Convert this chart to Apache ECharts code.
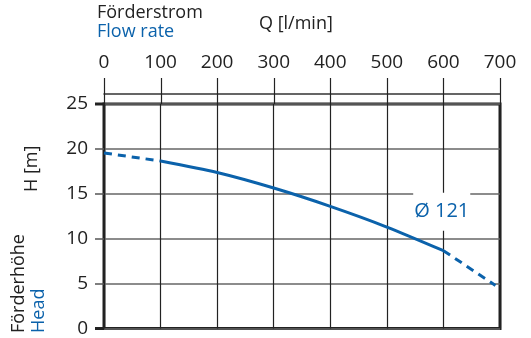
<!DOCTYPE html>
<html>
<head>
<meta charset="utf-8">
<script src="https://cdn.jsdelivr.net/npm/echarts@6/dist/echarts.min.js"></script>
<style>
html,body{margin:0;padding:0;background:#fff;}
#c{width:531px;height:338px;background:#fff;}
</style>
</head>
<body>
<div id="c"></div>
<script>
// Data
const xTicks = [0, 100, 200, 300, 400, 500, 600, 700];
const yTicks = [0, 5, 10, 15, 20, 25];
const dashedStart = [[0, 19.55], [100, 18.65]];
const solidCurve = [[100, 18.65], [200, 17.37], [300, 15.64], [400, 13.6], [500, 11.3], [600, 8.67]];
const dashedEnd = [[600, 8.67], [692, 4.8]];
const curveLabel = 'Ø 121';
const curveLabelAt = [597, 13.0];

const BLUE = '#0b62ab';
const DARK = '#222';
const FONT = '"Open Sans", "Noto Sans", sans-serif';

const chart = echarts.init(document.getElementById('c'));
const lineStyleBase = {color: BLUE, width: 3};
const X_MIN = xTicks[0], X_MAX = xTicks[xTicks.length - 1];
const Y_MIN = yTicks[0], Y_MAX = yTicks[yTicks.length - 1];

function bandXAxis(gridIndex, position, extra) {
  return Object.assign({
    type: 'value', gridIndex: gridIndex, position: position,
    min: X_MIN, max: X_MAX, interval: 100,
    axisLine: {show: false, onZero: false},
    axisTick: {show: false},
    axisLabel: {show: false},
    splitLine: {show: true, lineStyle: {color: DARK, width: 1.2}}
  }, extra || {});
}
function hiddenYAxis(gridIndex) {
  return {type: 'value', gridIndex: gridIndex, min: 0, max: 1, show: false, splitLine: {show: false}};
}

const textGraphics = [
  {id: 't1', type: 'text', left: 97, top: 4, style: {text: 'Förderstrom', fontSize: 18, fill: DARK, fontFamily: FONT}},
  {id: 't2', type: 'text', left: 97, top: 23, style: {text: 'Flow rate', fontSize: 18, fill: BLUE, fontFamily: FONT}},
  {id: 't3', type: 'text', left: 259, top: 15, style: {text: 'Q [l/min]', fontSize: 18, fill: DARK, fontFamily: FONT}},
  {id: 't4', type: 'text', x: 23, y: 192, rotation: Math.PI / 2, style: {text: 'H [m]', fontSize: 18, fill: DARK, fontFamily: FONT, align: 'left', verticalAlign: 'top'}},
  {id: 't5', type: 'text', x: 10, y: 333, rotation: Math.PI / 2, style: {text: 'Förderhöhe', fontSize: 18, fill: DARK, fontFamily: FONT, align: 'left', verticalAlign: 'top'}},
  {id: 't6', type: 'text', x: 30, y: 333, rotation: Math.PI / 2, style: {text: 'Head', fontSize: 18, fill: BLUE, fontFamily: FONT, align: 'left', verticalAlign: 'top'}}
];

chart.setOption({
  animation: false,
  grid: [
    {left: 104, right: 31, top: 104, bottom: 7, show: true, borderWidth: 3, borderColor: DARK},
    {left: 104, right: 31, top: 78, height: 16}
  ],
  xAxis: [
    bandXAxis(0, 'top'),
    bandXAxis(1, 'top', {axisLabel: {show: true, margin: 6, fontSize: 19, color: DARK, fontFamily: FONT}, splitLine: {show: false}}),
    bandXAxis(1, 'bottom', {axisLine: {show: true, onZero: false, lineStyle: {color: '#333', width: 1.5}}, splitLine: {show: false}})
  ],
  yAxis: [{
    type: 'value', gridIndex: 0, min: Y_MIN, max: Y_MAX, interval: 5,
    axisLine: {show: false, onZero: false},
    axisTick: {show: true, inside: false, length: 9, lineStyle: {color: '#555', width: 1.5}},
    axisLabel: {margin: 16, fontSize: 19, color: DARK, fontFamily: FONT},
    splitLine: {show: true, lineStyle: {color: '#666', width: 1.5}}
  }, hiddenYAxis(1)],
  graphic: textGraphics,
  series: [
    {type: 'line', xAxisIndex: 0, yAxisIndex: 0, data: dashedStart, showSymbol: false, lineStyle: Object.assign({}, lineStyleBase, {type: [8, 6]}), z: 5},
    {type: 'line', xAxisIndex: 0, yAxisIndex: 0, data: solidCurve, showSymbol: false, smooth: 0.25, lineStyle: lineStyleBase, z: 5,
      markPoint: {
        symbol: 'rect', symbolSize: 0,
        data: [{coord: curveLabelAt, value: curveLabel}],
        label: {show: true, position: 'inside', formatter: curveLabel, color: BLUE, fontSize: 20, fontFamily: FONT, backgroundColor: '#fff', padding: [9, 1]}
      }},
    {type: 'line', xAxisIndex: 0, yAxisIndex: 0, data: dashedEnd, showSymbol: false, lineStyle: Object.assign({}, lineStyleBase, {type: [8, 6]}), z: 5}
  ]
});

// Scale decorations placed through the library's own axis scales
const plotTop = chart.convertToPixel({yAxisIndex: 0}, Y_MAX);
const plotLeft = chart.convertToPixel({xAxisIndex: 0}, X_MIN);
const scaleTop = plotTop - 26;
const tickGraphics = xTicks.map(function (v, i) {
  const px = Math.round(chart.convertToPixel({xAxisIndex: 0}, v)) + 0.5;
  return {id: 'xt' + i, type: 'line', z: 100, zlevel: 1, silent: true,
    shape: {x1: px, y1: scaleTop, x2: px, y2: plotTop},
    style: {stroke: DARK, lineWidth: 1.2}};
});
const edgeTicks = [Y_MIN, Y_MAX].map(function (v, i) {
  const py = chart.convertToPixel({yAxisIndex: 0}, v);
  return {id: 'ye' + i, type: 'line', z: 100, silent: true,
    shape: {x1: plotLeft - 9, y1: py, x2: plotLeft, y2: py},
    style: {stroke: DARK, lineWidth: 3}};
});
chart.setOption({graphic: textGraphics.concat(tickGraphics, edgeTicks)});
</script>
</body>
</html>
